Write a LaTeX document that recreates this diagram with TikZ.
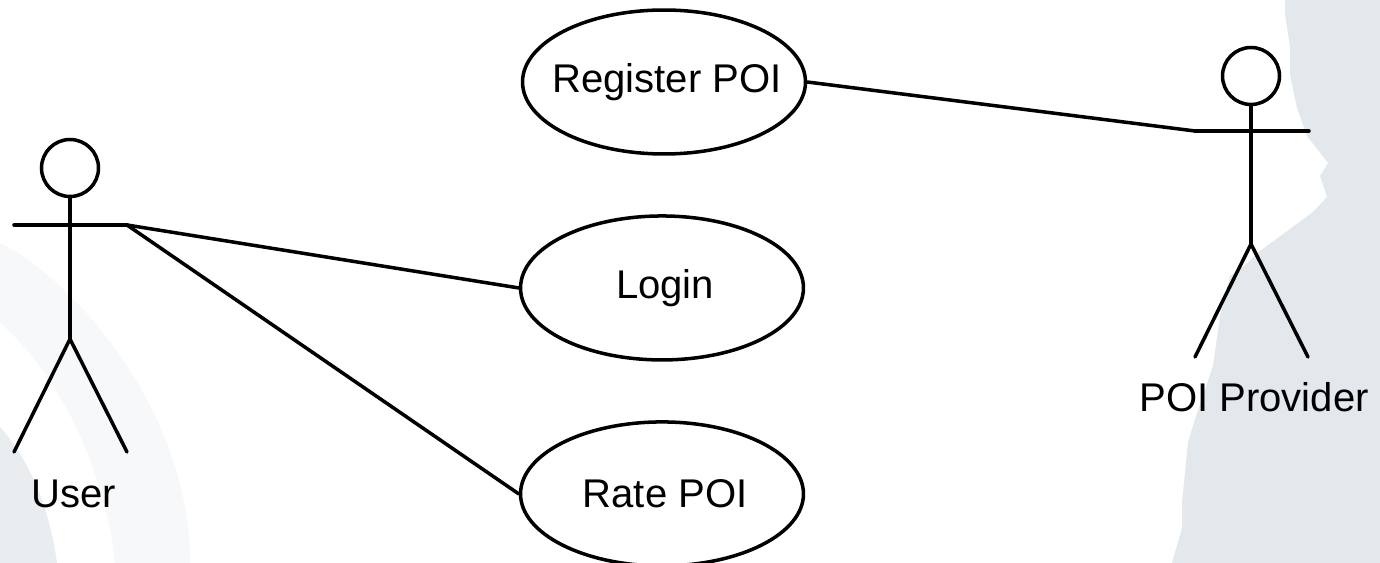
\documentclass[tikz,border=0pt]{standalone}
\usepackage{fontspec}
\setmainfont{Liberation Sans}
\usetikzlibrary{positioning,shapes.geometric}

\definecolor{bgdark}{HTML}{E2E8EB}
\definecolor{bgmid}{HTML}{E9EDF0}
\definecolor{bglight}{HTML}{F7F8FA}

\tikzset{
  usecase/.style={draw, ellipse, line width=2pt, minimum width=5.66cm, minimum height=2.88cm, inner sep=-14pt, execute at begin node={\hspace*{3.5pt}}},
  head/.style={draw, circle, line width=2pt, minimum size=1.14cm, inner sep=0pt},
  limb/.style={line width=2pt, line cap=round},
  caption/.style={inner sep=0pt}
}

\begin{document}
\begin{tikzpicture}[x=0.02cm,y=-0.02cm,font=\fontsize{22.8}{27}\selectfont,node distance=4.12cm,on grid]
\useasboundingbox (0,0) rectangle (1380,563);

% background
\fill[bglight] (0,243) .. controls (60,270) and (190,400) .. (190,563) -- (115,563) .. controls (105,470) and (60,375) .. (0,323) -- cycle;
\fill[bgmid] (0,427) .. controls (30,460) and (50,510) .. (57,563) -- (0,563) -- cycle;
\fill[bgdark] (1285,0) -- (1285,14) -- (1290,47) -- (1290,75) -- (1297,108) -- (1307,136) -- (1328,163)
  -- (1320,176) -- (1327,197) -- (1313,212) -- (1260,251) -- (1243,267) -- (1230,276) -- (1220,316)
  -- (1213,366) -- (1197,413) -- (1188,442) -- (1182,503) -- (1182,528) -- (1172,563) -- (1380,563) -- (1380,0) -- cycle;

% use cases
\node[usecase] (register) at (664,82) {Register POI};
\node[usecase] (login) [below=of register, xshift=-0.04cm] {Login};
\node[usecase] (rate) [below=of login] {Rate POI};

% user
\node[head] (u_head) at (70,168) {};
\coordinate (u_hip) at (70,339);
\coordinate (u_lhand) at (14,225);
\coordinate (u_rhand) at (127,225);
\coordinate (u_lfoot) at (14,452);
\coordinate (u_rfoot) at (127,452);
\node[caption] (u_name) at (74,494) {User};

% provider
\node[head] (p_head) at (1251,76) {};
\coordinate (p_hip) at (1251,244);
\coordinate (p_lhand) at (1195,131);
\coordinate (p_rhand) at (1309,131);
\coordinate (p_lfoot) at (1195,357);
\coordinate (p_rfoot) at (1308,357);
\node[caption] (p_name) at (1254,397) {POI Provider};

\path[limb]
(u_head) edge (u_hip)
(u_lhand) edge (u_rhand)
(u_hip) edge (u_lfoot)
(u_hip) edge (u_rfoot)

(p_head) edge (p_hip)
(p_lhand) edge (p_rhand)
(p_hip) edge (p_lfoot)
(p_hip) edge (p_rfoot)

(u_rhand) edge (login.west)
(u_rhand) edge (rate.west)
(p_lhand) edge (register.east)
; %end path
\end{tikzpicture}
\end{document}
